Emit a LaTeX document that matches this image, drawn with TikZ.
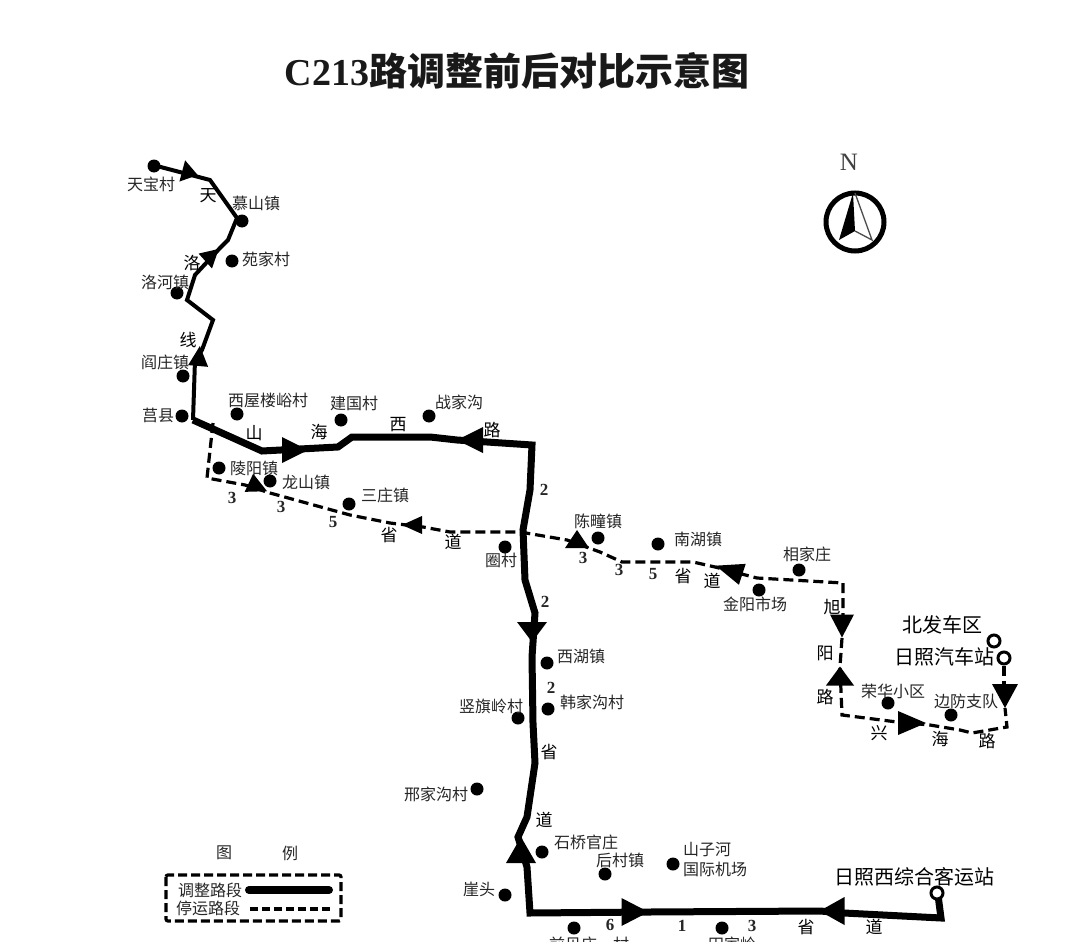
\documentclass[tikz,border=0pt]{standalone}
\usepackage{fontspec}
\setmainfont{Noto Sans CJK SC}
\newfontfamily\latinserif{Liberation Serif}
\tikzset{
  x=1pt,y=-1pt,
  thick route/.style={line width=7pt,line join=miter,line cap=butt},
  thin route/.style={line width=4pt,line join=miter},
  stopped/.style={line width=3.2pt,dash pattern=on 10pt off 5pt,line join=miter},
  stopdot/.style={circle,fill=black,inner sep=0pt,minimum size=13pt},
  termdot/.style={circle,draw=black,fill=white,line width=3pt,inner sep=0pt,minimum size=12pt},
  lab/.style={font=\fontsize{16}{16}\selectfont,text=black!85,inner sep=0pt},
  road/.style={font=\fontsize{17}{17}\selectfont,text=black,inner sep=0pt},
  num/.style={font=\latinserif\bfseries\fontsize{17}{17}\selectfont,text=black!85,inner sep=0pt},
  big/.style={font=\fontsize{20}{20}\selectfont,text=black,inner sep=0pt},
}
% centre, canvas angle, length, half width
\newcommand{\arrowtri}[4]{\fill[shift={#1},rotate=#2] (#3/2,0) -- (-#3/2,-#4) -- (-#3/2,#4) -- cycle;}
\begin{document}
\begin{tikzpicture}
\useasboundingbox (0,0) rectangle (1080,942);
\fill[white] (0,0) rectangle (1080,942);
\begin{scope}
\clip (0,0) rectangle (1080,942);
% title
\node[inner sep=0pt,font=\bfseries\fontsize{38}{38}\selectfont,text=black!90] (title) at (517,71) {{\latinserif C213}路调整前后对比示意图};
% north
\node[font=\latinserif\fontsize{25}{25}\selectfont,text=black!75,inner sep=0pt] (north) at (849,162) {N};
\draw[line width=5pt] (855,222) circle (29pt);
\fill (853,193) -- (839,240) -- (855,231) -- cycle;
\draw[line width=1.3pt,black!70] (855,193) -- (872,240) -- (855,231);
% thin route
\draw[thin route] (153,165) -- (210,180) -- (237,218) -- (228,240) -- (220,248) -- (195,275) -- (187,300) -- (213,320) -- (202,350) -- (195,360) -- (193,420);
% thick adjusted route
\draw[thick route] (193,420) -- (262,451) -- (338,447) -- (352,437) -- (430,437) -- (457,440) -- (532,445) -- (530,490) -- (523,530) -- (525,580) -- (535,613) -- (532,657) -- (533,723) -- (535,763) -- (527,817) -- (518,837) -- (527,867) -- (530,913) -- (650,912) -- (820,911) -- (844,913) -- (941,918) -- (938,895);
% stopped route
\draw[stopped] (213,423) -- (207,478) -- (245,485) -- (270,493) -- (350,515) -- (390,523) -- (423,527) -- (450,532) -- (520,532) -- (567,540) -- (600,552) -- (622,562) -- (693,562) -- (715,567) -- (757,578) -- (843,583) -- (843,615);
\draw[stopped] (842,638) -- (840,667) -- (842,715) -- (897,722) -- (930,725) -- (960,730) -- (972,733) -- (1007,727) -- (1005,708);
% arrows
\arrowtri{(190,173)}{-15}{16}{11}
\arrowtri{(212,255)}{42}{18}{10}
\arrowtri{(199,356)}{85}{20}{10}
\arrowtri{(295,450)}{0}{26}{13}
\arrowtri{(470,440)}{180}{26}{13}
\arrowtri{(532,632)}{-90}{20}{15}
\arrowtri{(521,850)}{90}{26}{15}
\arrowtri{(635,912)}{0}{27}{14}
\arrowtri{(832,911)}{180}{25}{14}
\arrowtri{(258,487)}{-25}{20}{10}
\arrowtri{(412,525)}{180}{20}{9}
\arrowtri{(577,539)}{90}{18}{12}
\arrowtri{(729,570)}{162}{28}{11}
\arrowtri{(842,626)}{-90}{23}{12}
\arrowtri{(840,676)}{90}{19}{14}
\arrowtri{(912,723)}{0}{28}{12}
\arrowtri{(1005,696)}{-90}{24}{13}
% stops
\foreach \n/\x/\y in {a1/154/166,a2/242/221,a3/232/261,a4/177/293,a5/183/376,a6/182/416,a7/237/414,a8/341/420,a9/429/416,a10/219/468,a11/270/481,a12/349/504,a13/505/547,a14/598/538,a15/658/544,a16/759/590,a17/799/570,a18/547/663,a19/548/709,a20/518/718,a21/477/789,a22/542/852,a23/605/874,a24/673/864,a25/505/895,a26/574/928,a27/722/928,a28/888/703,a29/951/715}
  \node[stopdot] (\n) at (\x,\y) {};
% terminals
\node[termdot] (t1) at (994,641) {};
\node[termdot] (t2) at (1004,658) {};
\node[termdot] (t3) at (937,893) {};
\coordinate (t2e) at (1004,686);
\draw[stopped] (t2) -- (t2e);
% stop labels
\node[lab] (l1) at (151,184) {天宝村};
\node[lab] (l2) at (256,203) {慕山镇};
\node[lab] (l3) at (266,259) {苑家村};
\node[lab] (l4) at (165,282) {洛河镇};
\node[lab] (l5) at (165,362) {阎庄镇};
\node[lab] (l6) at (158,415) {莒县};
\node[lab] (l7) at (268,400) {西屋楼峪村};
\node[lab] (l8) at (354,403) {建国村};
\node[lab] (l9) at (459,402) {战家沟};
\node[lab] (l10) at (254,468) {陵阳镇};
\node[lab] (l11) at (306,482) {龙山镇};
\node[lab] (l12) at (385,495) {三庄镇};
\node[lab] (l13) at (501,560) {圈村};
\node[lab] (l14) at (598,521) {陈疃镇};
\node[lab] (l15) at (698,539) {南湖镇};
\node[lab] (l16) at (755,604) {金阳市场};
\node[lab] (l17) at (807,554) {相家庄};
\node[lab] (l18) at (581,656) {西湖镇};
\node[lab] (l19) at (592,702) {韩家沟村};
\node[lab] (l20) at (491,706) {竖旗岭村};
\node[lab] (l21) at (436,794) {邢家沟村};
\node[lab] (l22) at (586,842) {石桥官庄};
\node[lab] (l23) at (620,860) {后村镇};
\node[lab] (l24) at (707,850) {山子河};
\node[lab] (l25) at (715,869) {国际机场};
\node[lab] (l26) at (479,889) {崖头};
\node[lab] (l27) at (589,944) {前贝庄一村};
\node[lab] (l28) at (732,944) {田家岭};
\node[lab] (l29) at (893,691) {荣华小区};
\node[lab] (l30) at (966,701) {边防支队};
% big labels
\node[big] (b1) at (942,625) {北发车区};
\node[big] (b2) at (944,657) {日照汽车站};
\node[big] (b3) at (914,877) {日照西综合客运站};
% road labels
\foreach \n/\t/\x/\y in {r1/天/208/196,r2/洛/192/263,r3/线/188/340,r4/山/254/433,r5/海/319/432,r6/西/398/425,r7/路/492/430,r8/省/389/535,r9/道/453/542,r10/省/683/576,r11/道/712/581,r12/旭/832/607,r13/阳/825/653,r14/路/825/697,r15/兴/879/733,r16/海/940/739,r17/路/987/741,r18/省/549/752,r19/道/544/820,r20/省/806/927,r21/道/874/927}
  \node[road] (\n) at (\x,\y) {\t};
% numbers
\foreach \n/\t/\x/\y in {n1/2/544/490,n2/2/545/602,n3/2/551/688,n4/3/232/498,n5/3/281/507,n6/5/333/522,n7/3/583/558,n8/3/619/570,n9/5/653/574,n10/6/610/925,n11/1/682/926,n12/3/752/926}
  \node[num] (\n) at (\x,\y) {\t};
% legend
\node[lab] (g1) at (224,853) {图};
\node[lab] (g2) at (290,853) {例};
\draw[line width=3.2pt,dash pattern=on 9pt off 4pt,rounded corners=2pt] (166,875) rectangle (341,921);
\node[lab] (g3) at (210,890) {调整路段};
\node[lab] (g4) at (208,908) {停运路段};
\coordinate (g5) at (249,890);
\coordinate (g6) at (329,890);
\coordinate (g7) at (250,909);
\coordinate (g8) at (330,909);
\draw[line width=8pt,line cap=round] (g5) -- (g6);
\draw[stopped,dash pattern=on 8pt off 4pt] (g7) -- (g8);
\end{scope}
\end{tikzpicture}
\end{document}
